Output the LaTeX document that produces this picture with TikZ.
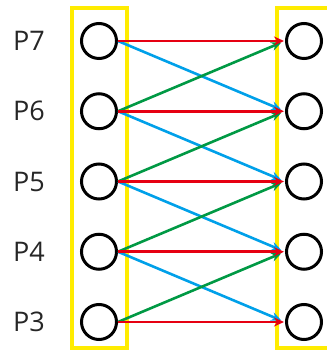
\documentclass[tikz,border=0pt]{standalone}
\usepackage{fontspec}
\setmainfont{Open Sans}
\usetikzlibrary{arrows.meta, positioning}
\definecolor{pred}{RGB}{230,0,18}
\definecolor{pblue}{RGB}{0,160,233}
\definecolor{pgreen}{RGB}{0,153,68}
\definecolor{pyellow}{RGB}{255,236,0}
\tikzstyle{port} = [circle, draw=black, line width=3pt, minimum size=35pt, inner sep=0pt]
\tikzstyle{plabel} = [font=\fontsize{27}{32}\selectfont, text=black!85]
\tikzstyle{frame} = [draw=pyellow, line width=3.4pt]
\tikzstyle{arrow} = [line width=2.6pt,->,>={Stealth[length=10pt,width=9pt]}]
\tikzstyle{straight} = [arrow, draw=pred, shorten >=1pt]
\tikzstyle{down} = [arrow, draw=pblue, shorten >=4pt]
\tikzstyle{up} = [arrow, draw=pgreen, shorten >=4pt]
\begin{document}
\begin{tikzpicture}[node distance=70.25pt and 205pt, on grid]
\useasboundingbox (0,0) rectangle (326pt,350pt);
\draw[frame] (72pt,2pt) rectangle (127pt,342pt);
\draw[frame] (277pt,2pt) rectangle (345pt,342pt);

\node (l7) [port] at (99pt,309pt) {};
\node (l6) [port, below=of l7] {};
\node (l5) [port, below=of l6] {};
\node (l4) [port, below=of l5] {};
\node (l3) [port, below=of l4] {};
\node (r7) [port, right=of l7] {};
\node (r6) [port, right=of l6] {};
\node (r5) [port, right=of l5] {};
\node (r4) [port, right=of l4] {};
\node (r3) [port, right=of l3] {};

\node (p7) [plabel, left=70pt of l7] {P7};
\node (p6) [plabel, left=70pt of l6] {P6};
\node (p5) [plabel, left=70pt of l5] {P5};
\node (p4) [plabel, left=70pt of l4] {P4};
\node (p3) [plabel, left=70pt of l3] {P3};

\draw[down] (l7.east) -- (r6.west);
\draw[down] (l6.east) -- (r5.west);
\draw[down] (l5.east) -- (r4.west);
\draw[down] (l4.east) -- (r3.west);
\draw[up] (l6.east) -- (r7.west);
\draw[up] (l5.east) -- (r6.west);
\draw[up] (l4.east) -- (r5.west);
\draw[up] (l3.east) -- (r4.west);
\draw[straight] (l7.east) -- (r7.west);
\draw[straight] (l6.east) -- (r6.west);
\draw[straight] (l5.east) -- (r5.west);
\draw[straight] (l4.east) -- (r4.west);
\draw[straight] (l3.east) -- (r3.west);
\end{tikzpicture}
\end{document}
